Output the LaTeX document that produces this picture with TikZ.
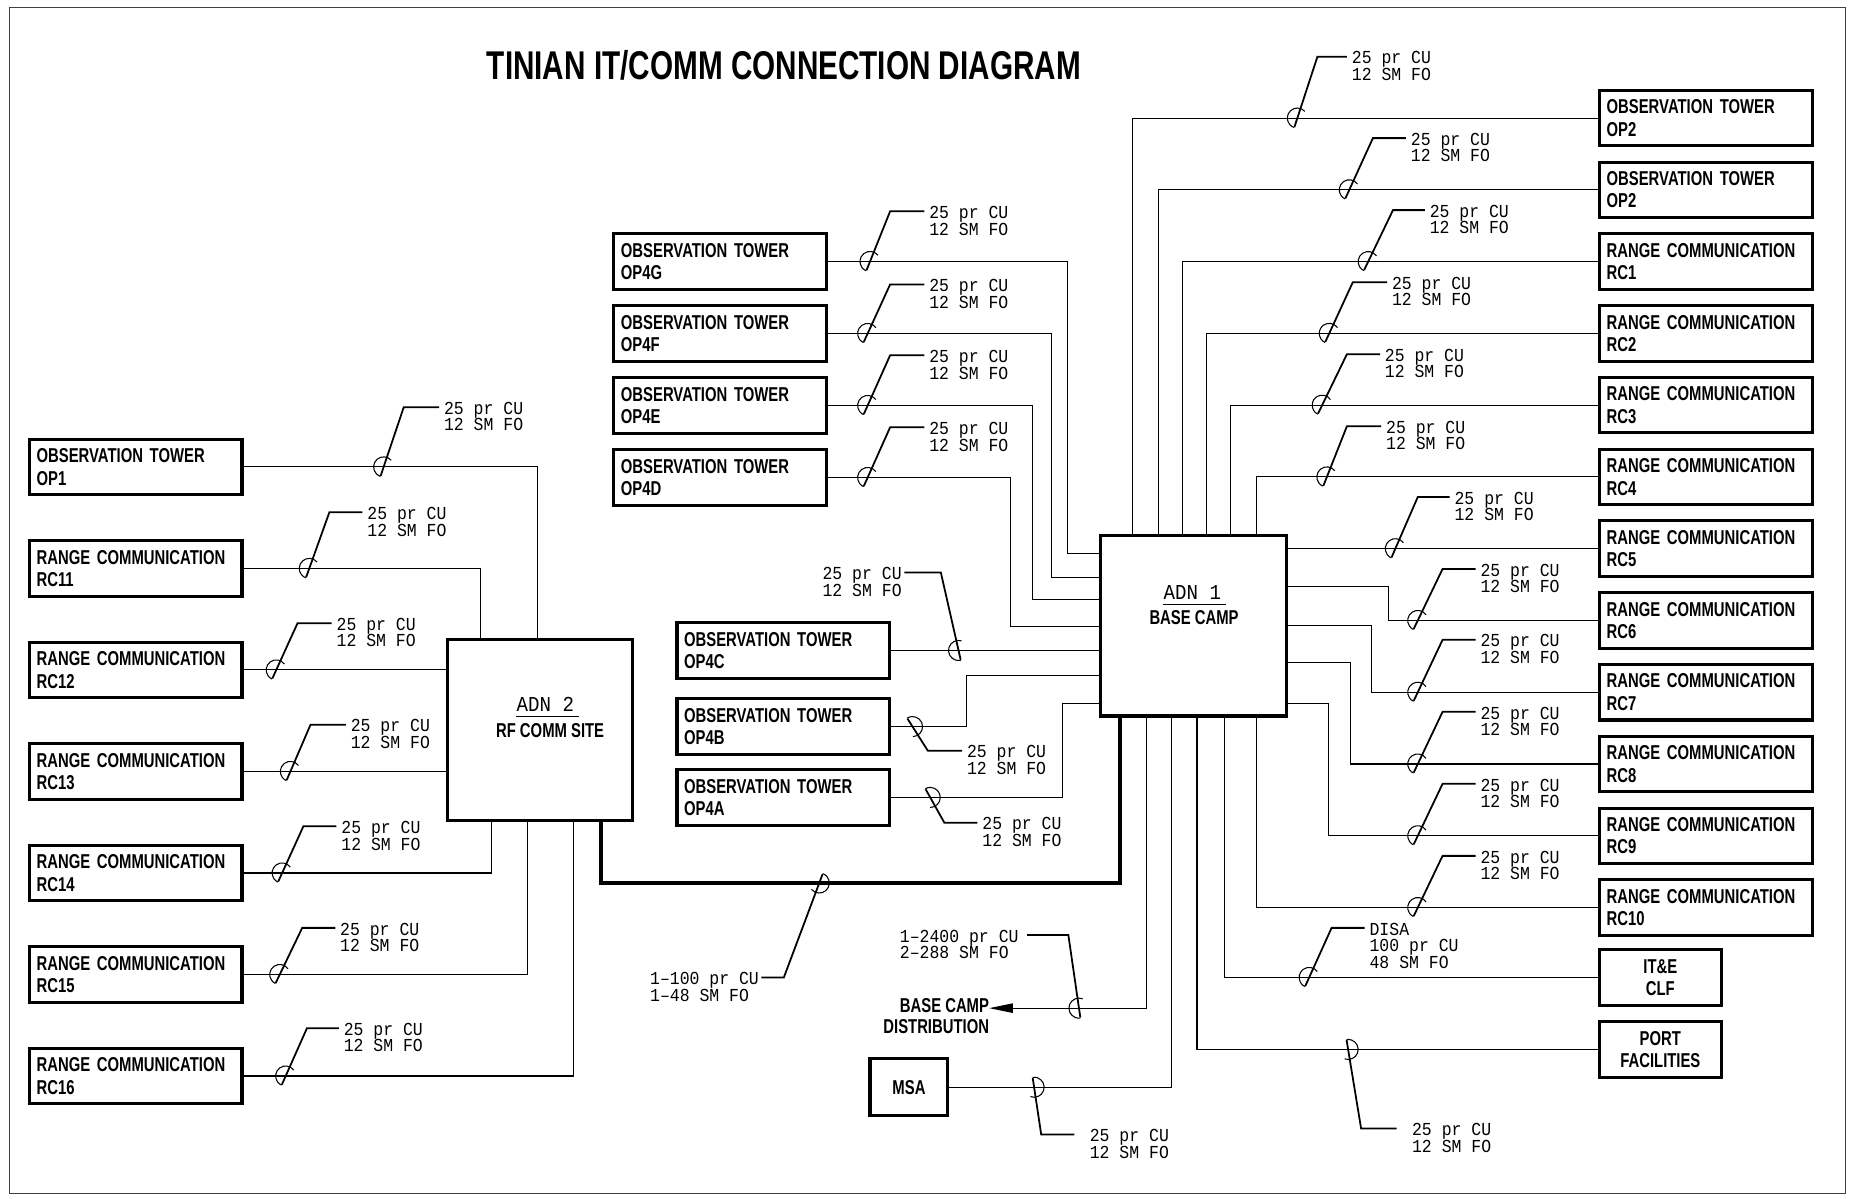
\documentclass[tikz,border=0pt]{standalone}
\usepackage{fontspec}
\usetikzlibrary{calc,arrows.meta}
\newfontfamily\boxfont{Liberation Sans}[FakeStretch=0.74]
\newfontfamily\cadfont{Liberation Mono}[FakeStretch=0.9]
\newcommand{\labelfont}{\cadfont\fontsize{15.5}{14}\selectfont\lineskiplimit=-6pt\relax}
\newcommand{\capstrut}{\rule{0pt}{9pt}}
% 电缆标注：交点，折点，短横线终点，标签选项，标签文字
\newcommand{\cablemark}[5]{%
	\draw[leadline] ($(#1)!-8pt!(#2)$) -- (#2) -- (#3);
	\draw[cablearc] let \p1=($(#2)-(#1)$), \n1={atan2(\y1,\x1)} in
		($(#1)+(\n1-30:8.5pt)$) arc[start angle=\n1-30, end angle=\n1+180, radius=8.5pt];
	\node[cablelabel,#4] at (#3) {\capstrut{}#5};
}
\tikzset{
	framed/.style={draw, line width=2.6pt, font=\boxfont\bfseries\fontsize{17}{19}\selectfont},
	sitebox/.style={framed, minimum width=180pt, minimum height=47pt, inner xsep=5pt, text width=168pt, align=left},
	endbox/.style={framed, minimum width=103pt, minimum height=48pt, align=center},
	adnbox/.style={draw, line width=2.6pt, minimum width=157pt, minimum height=153pt},
	link/.style={line width=0.9pt},
	trunk/.style={line width=3.2pt},
	leadline/.style={line width=1.5pt},
	cablearc/.style={line width=0.9pt},
	cablelabel/.style={font=\labelfont, align=left, inner sep=0pt},
	callright/.style={anchor=north west, xshift=4pt, yshift=4.5pt},
	callleft/.style={anchor=north east, xshift=-2pt, yshift=4.5pt},
	boldtext/.style={font=\boxfont\bfseries\fontsize{17}{18}\selectfont, inner sep=0pt},
	adnname/.style={font=\cadfont\fontsize{18}{18}\selectfont, inner sep=0pt}
}
\begin{document}
\begin{tikzpicture}[x=1pt, y=-1pt]
	\useasboundingbox (0,0) rectangle (1568,1015);
	\draw[line width=0.8pt, black!75] (8,6) rectangle (1563,1011);
	
	% 标题
	\node[font=\boxfont\bfseries\fontsize{34}{34}\selectfont] (title) at (664,55) {TINIAN IT/COMM CONNECTION DIAGRAM};
	
	% 站点方框
	\foreach \nm/\ttl/\id [count=\i from 0] in {op1/OBSERVATION TOWER/OP1, rc11/RANGE COMMUNICATION/RC11,
			rc12/RANGE COMMUNICATION/RC12, rc13/RANGE COMMUNICATION/RC13, rc14/RANGE COMMUNICATION/RC14,
			rc15/RANGE COMMUNICATION/RC15, rc16/RANGE COMMUNICATION/RC16}
		\node[sitebox] (\nm) at (115,{395.5+86*\i}) {\ttl\\\id};
	\foreach \nm/\id [count=\i from 0] in {op4g/OP4G, op4f/OP4F, op4e/OP4E, op4d/OP4D}
		\node[sitebox] (\nm) at (610,{221.5+61*\i}) {OBSERVATION TOWER\\\id};
	\node[sitebox] (op4c) at (663.5,551) {OBSERVATION TOWER\\OP4C};
	\node[sitebox] (op4b) at (663.5,615.5) {OBSERVATION TOWER\\OP4B};
	\node[sitebox] (op4a) at (663.5,675.5) {OBSERVATION TOWER\\OP4A};
	\foreach \nm/\ttl/\id [count=\i from 0] in {op2a/OBSERVATION TOWER/OP2, op2b/OBSERVATION TOWER/OP2,
			rc1/RANGE COMMUNICATION/RC1, rc2/RANGE COMMUNICATION/RC2, rc3/RANGE COMMUNICATION/RC3,
			rc4/RANGE COMMUNICATION/RC4, rc5/RANGE COMMUNICATION/RC5, rc6/RANGE COMMUNICATION/RC6,
			rc7/RANGE COMMUNICATION/RC7, rc8/RANGE COMMUNICATION/RC8, rc9/RANGE COMMUNICATION/RC9,
			rc10/RANGE COMMUNICATION/RC10}
		\node[sitebox] (\nm) at (1445,{100+60.8*\i}) {\ttl\\\id};
	\node[endbox] (ite) at (1406.5,828) {IT\&E\\CLF};
	\node[endbox] (port) at (1406.5,889) {PORT\\FACILITIES};
	\node[endbox, minimum width=66pt] (msa) at (770,921) {MSA};
	\node[boldtext, align=right, anchor=east] (dist) at (838,861) {BASE CAMP\\DISTRIBUTION};
	
	% 节点 ADN
	\node[adnbox] (adn2) at (457.5,618.5) {};
	\node[adnname] (adn2name) at (462,597) {ADN 2};
	\draw[link] ([yshift=-4pt]adn2name.south west) -- ([xshift=4pt,yshift=-4pt]adn2name.south east);
	\node[boldtext] (adn2site) at (466,619) {RF COMM SITE};
	\node[adnbox] (adn1) at (1011,530) {};
	\node[adnname] (adn1name) at (1010,502) {ADN 1};
	\draw[link] ([yshift=-4pt]adn1name.south west) -- ([xshift=4pt,yshift=-4pt]adn1name.south east);
	\node[boldtext] (adn1site) at (1011.5,523) {BASE CAMP};
	
	% 左侧连线
	\draw[link] (op1.east) -| (455,0 |- adn2.north);
	\draw[link] (rc11.east) -| (407,0 |- adn2.north);
	\draw[link] (rc12.east) -- (adn2.west |- rc12.east);
	\draw[link] (rc13.east) -- (adn2.west |- rc13.east);
	\draw[link] (rc14.east) -| (416,0 |- adn2.south);
	\draw[link] (rc15.east) -| (447,0 |- adn2.south);
	\draw[link] (rc16.east) -| (486,0 |- adn2.south);
	\draw[trunk] (509,0 |- adn2.south) |- (949,748) -- (949,0 |- adn1.south);
	
	% 中间连线
	\foreach \nm/\xx/\yy in {op4g/904/469, op4f/891/489, op4e/875/508, op4d/856/531}
		\draw[link] (\nm.east) -| (\xx,\yy) -- (adn1.west |- 0,\yy);
	\draw[link] (op4c.east) -- (adn1.west |- op4c.east);
	\draw[link] (op4b.east) -| (819,572) -- (adn1.west |- 0,572);
	\draw[link] (op4a.east) -| (900,596) -- (adn1.west |- 0,596);
	
	% 右侧连线
	\foreach \nm/\xx in {op2a/959, op2b/981, rc1/1002, rc2/1022, rc3/1042, rc4/1064}
		\draw[link] (\xx,0 |- adn1.north) |- (\nm.west);
	\draw[link] (adn1.east |- rc5.west) -- (rc5.west);
	\foreach \nm/\yy/\xx in {rc6/497/1176, rc7/530/1162, rc8/561/1144, rc9/596/1125}
		\draw[link] (adn1.east |- 0,\yy) -| (\xx,0 |- \nm.west) -- (\nm.west);
	\foreach \nm/\xx in {rc10/1064, ite/1037, port/1014}
		\draw[link] (\xx,0 |- adn1.south) |- (\nm.west);
	\draw[link] (992,0 |- adn1.south) |- (msa.east);
	\draw[link, -{Triangle[length=20pt,width=8pt]}] (971,0 |- adn1.south) |- (dist.east |- 0,854);
	
	% 电缆标注
	\foreach \nm/\cx/\ex/\ey/\hx in {op1/325/342/345/372, rc11/262/279/434/307, rc12/234/252/528/281,
			rc13/246/263/614/293, rc14/239/257/700/285, rc15/237/256/786/284, rc16/242/260/871/287}
		\cablemark{\cx,0 |- \nm}{\ex,\ey}{\hx,\ey}{callright}{25 pr CU\\12 SM FO};
	\foreach \nm/\cx/\ey in {op4g/737/179, op4f/735/241, op4e/735/301, op4d/735/362}
		\cablemark{\cx,0 |- \nm}{754,\ey}{783,\ey}{callright}{25 pr CU\\12 SM FO};
	\foreach \nm/\cx/\ex/\ey/\hx in {op2a/1099/1116/48/1141, op2b/1143/1163/117/1191, rc1/1159/1180/178/1207,
			rc2/1126/1146/239/1175, rc3/1120/1141/300/1169, rc4/1124/1141/361/1170, rc5/1182/1201/421/1228,
			rc6/1201/1222/482/1250, rc7/1201/1222/542/1250, rc8/1201/1222/603/1250,
			rc9/1201/1222/664/1250, rc10/1201/1222/725/1250}
		\cablemark{\cx,0 |- \nm}{\ex,\ey}{\hx,\ey}{callright}{25 pr CU\\12 SM FO};
	\cablemark{812,0 |- op4c}{797,485}{766,485}{callleft}{25 pr CU\\12 SM FO};
	\cablemark{773,0 |- op4b}{786,636}{815,636}{callright}{25 pr CU\\12 SM FO};
	\cablemark{788,0 |- op4a}{800,697}{828,697}{callright}{25 pr CU\\12 SM FO};
	\cablemark{694,748}{664,828}{645,828}{callleft}{1–100 pr CU\\1–48 SM FO};
	\cablemark{914,854}{905,792}{870,792}{callleft, xshift=-5pt}{1–2400 pr CU\\2–288 SM FO};
	\cablemark{1109,0 |- ite}{1128,786}{1156,786}{callright}{DISA\\100 pr CU\\48 SM FO};
	\cablemark{876,0 |- msa}{882,961}{910,961}{callright, xshift=9pt}{25 pr CU\\12 SM FO};
	\cablemark{1142,0 |- port}{1153,956}{1183,956}{callright, xshift=9pt}{25 pr CU\\12 SM FO};
\end{tikzpicture}
\end{document}
